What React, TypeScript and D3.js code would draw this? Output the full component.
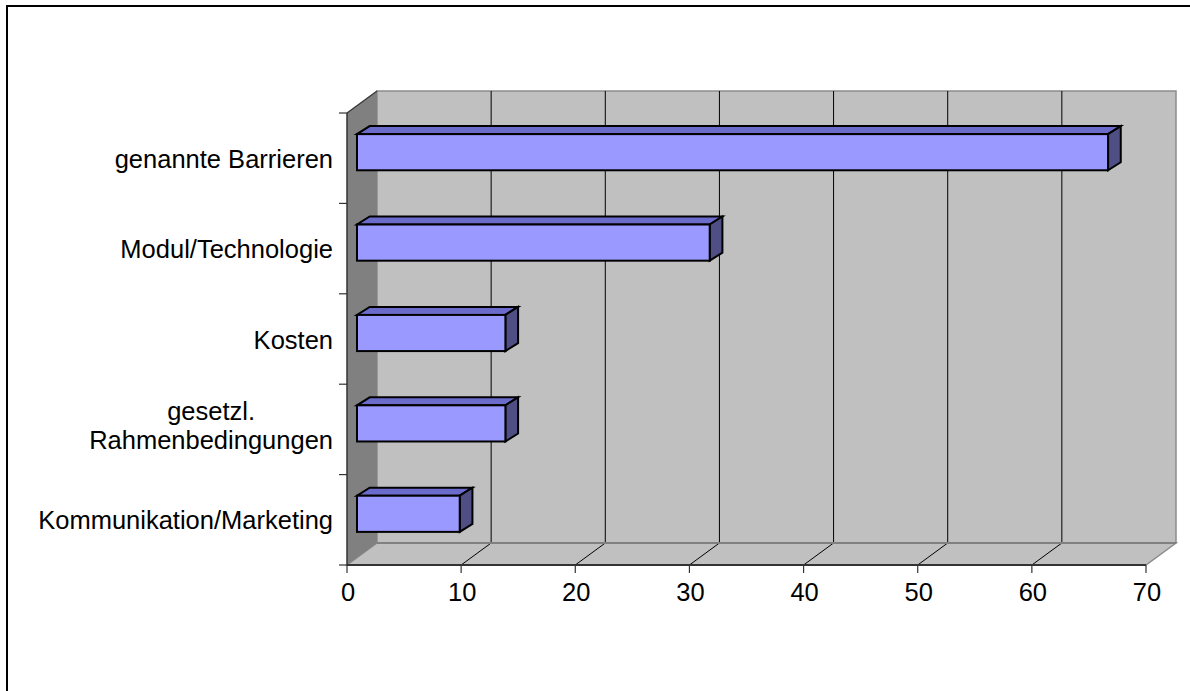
import React, { useEffect, useRef } from "react";
import * as d3 from "d3";

const categories: string[][] = [
  ["genannte Barrieren"],
  ["Modul/Technologie"],
  ["Kosten"],
  ["gesetzl.", "Rahmenbedingungen"],
  ["Kommunikation/Marketing"],
];
const values: number[] = [65.8, 30.9, 13, 13, 9];
const xTicks: number[] = [0, 10, 20, 30, 40, 50, 60, 70];

const W = 1190;
const H = 691;

export default function App() {
  const ref = useRef<SVGSVGElement | null>(null);

  useEffect(() => {
    const svg = d3.select(ref.current);
    svg.selectAll("*").remove();

    const x0 = 347, x1 = 1146, yTop = 113, yBot = 565;
    const DX = 30, DY = -22; // wall depth
    const BFX = 10, BFY = -6; // bar front offset
    const BDX = 12.7, BDY = -8; // bar depth
    const SX = 1.0;
    const FS = 25.5;
    const FONT = "'Liberation Sans', Arial, sans-serif";

    const x = d3.scaleLinear().domain([0, 70]).range([x0, x1]);
    const yAxis = d3.scaleBand<number>().domain(d3.range(categories.length)).range([yTop, yBot]).padding(0);
    const yBar = d3.scaleBand<number>().domain(d3.range(categories.length)).range([yTop, yBot]).paddingInner(0.6).paddingOuter(0.3);

    // outer frame
    svg.append("rect").attr("x", 7).attr("y", 6).attr("width", 1300).attr("height", 800)
      .attr("fill", "white").attr("stroke", "#000").attr("stroke-width", 2);

    // back wall
    svg.append("rect").attr("x", x0 + DX).attr("y", yTop + DY).attr("width", x1 - x0).attr("height", yBot - yTop)
      .attr("fill", "#C0C0C0").attr("stroke", "#8C8C8C").attr("stroke-width", 1.5);

    // floor
    const floor = [[x0, yBot], [x1, yBot], [x1 + DX, yBot + DY], [x0 + DX, yBot + DY]];
    svg.append("polygon").attr("points", floor.map(p => p.join(",")).join(" "))
      .attr("fill", "#C0C0C0").attr("stroke", "#8C8C8C").attr("stroke-width", 1.5);

    // left wall
    const lw = [[x0, yTop], [x0 + DX, yTop + DY], [x0 + DX, yBot + DY], [x0, yBot]];
    svg.append("polygon").attr("points", lw.map(p => p.join(",")).join(" "))
      .attr("fill", "#808080");
    svg.append("line").attr("x1", x0).attr("y1", yTop).attr("x2", x0 + DX).attr("y2", yTop + DY)
      .attr("stroke", "#333").attr("stroke-width", 1.2);

    // gridlines on back wall and floor
    xTicks.forEach((t, i) => {
      if (i > 0 && i < xTicks.length - 1) {
        svg.append("line").attr("x1", x(t) + DX).attr("x2", x(t) + DX).attr("y1", yTop + DY).attr("y2", yBot + DY)
          .attr("stroke", "#000").attr("stroke-width", 1);
        svg.append("line").attr("x1", x(t)).attr("y1", yBot).attr("x2", x(t) + DX).attr("y2", yBot + DY)
          .attr("stroke", "#000").attr("stroke-width", 1);
      }
    });
    svg.append("line").attr("x1", x0 + DX).attr("x2", x1 + DX).attr("y1", yBot + DY).attr("y2", yBot + DY)
      .attr("stroke", "#808080").attr("stroke-width", 2);

    // axes lines
    svg.append("line").attr("x1", x0).attr("x2", x0).attr("y1", yTop).attr("y2", yBot)
      .attr("stroke", "#333").attr("stroke-width", 1.5);
    svg.append("line").attr("x1", x0).attr("x2", x1).attr("y1", yBot).attr("y2", yBot)
      .attr("stroke", "#333").attr("stroke-width", 2);

    // y ticks at band boundaries
    d3.range(categories.length + 1).forEach(i => {
      const yy = yTop + i * yAxis.step();
      svg.append("line").attr("x1", x0 - 8).attr("x2", x0).attr("y1", yy).attr("y2", yy)
        .attr("stroke", "#333").attr("stroke-width", 1.2);
    });
    // x ticks
    xTicks.forEach(t => {
      svg.append("line").attr("x1", x(t)).attr("x2", x(t)).attr("y1", yBot).attr("y2", yBot + 8)
        .attr("stroke", "#333").attr("stroke-width", 1.2);
      svg.append("text").attr("transform", `translate(${x(t) + 1},601) scale(${SX},1)`)
        .attr("text-anchor", "middle").attr("font-family", FONT).attr("font-size", FS).attr("fill", "#000")
        .text(String(t));
    });

    // bars
    values.forEach((v, i) => {
      const fx0 = x(0) + BFX;
      const fx1 = x(v) + BFX;
      const fy0 = (yBar(i) as number) + BFY;
      const fy1 = fy0 + yBar.bandwidth();
      const g = svg.append("g").attr("stroke", "#000").attr("stroke-width", 2).attr("stroke-linejoin", "miter");
      const top = [[fx0, fy0], [fx1, fy0], [fx1 + BDX, fy0 + BDY], [fx0 + BDX, fy0 + BDY]];
      const side = [[fx1, fy0], [fx1 + BDX, fy0 + BDY], [fx1 + BDX, fy1 + BDY], [fx1, fy1]];
      g.append("polygon").attr("points", top.map(p => p.join(",")).join(" ")).attr("fill", "#6B6BCB");
      g.append("polygon").attr("points", side.map(p => p.join(",")).join(" ")).attr("fill", "#4F4F86");
      g.append("rect").attr("x", fx0).attr("y", fy0).attr("width", fx1 - fx0).attr("height", fy1 - fy0)
        .attr("fill", "#9999FF");
    });

    // category labels
    const rightEdge = 333;
    categories.forEach((lines, i) => {
      const c = (yAxis(i) as number) + yAxis.bandwidth() / 2;
      const n = lines.length;
      const grp = svg.append("g");
      const texts = lines.map(l => grp.append("text").attr("font-family", FONT).attr("font-size", FS)
        .attr("fill", "#000").attr("text-anchor", "middle").text(l));
      const widths = texts.map(t => (t.node() as SVGTextElement).getComputedTextLength() * SX);
      const maxW = d3.max(widths) || 0;
      const cx = rightEdge - maxW / 2;
      texts.forEach((t, j) => {
        const by = c + (n === 1 ? 9.5 : 5) + (j - (n - 1) / 2) * 29;
        t.attr("transform", `translate(${cx},${by}) scale(${SX},1)`);
      });
    });
  }, []);

  return (
    <svg ref={ref} width={W} height={H}
      style={{ position: "absolute", left: 0, top: 0, display: "block", background: "#fff" }} />
  );
}
